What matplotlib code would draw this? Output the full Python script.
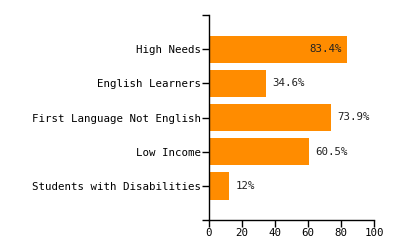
import matplotlib
matplotlib.use("Agg")
import matplotlib.pyplot as plt

categories = ["High Needs", "English Learners", "First Language Not English",
              "Low Income", "Students with Disabilities"]
values = [83.4, 34.6, 73.9, 60.5, 12]
labels = ["83.4%", "34.6%", "73.9%", "60.5%", "12%"]
xticks = [0, 20, 40, 60, 80, 100]

plt.rcParams['font.family'] = ['DejaVu Sans Mono']
fs = 7.75
fig = plt.figure(figsize=(4, 2.5), dpi=100)
ax = fig.add_axes([209/400, 1-220/250, 165/400, 205/250])

pos = list(range(len(categories)))
ax.barh(pos, values, height=0.8, color="#FF8C00")
ax.set_xlim(0, 100)
ax.set_ylim(5, -1)
ax.set_yticks([-1] + pos + [5])
ax.set_yticklabels([""] + categories + [""])
ax.set_xticks(xticks)
ax.set_xticklabels([str(t) for t in xticks])
ax.tick_params(axis='both', labelsize=fs, length=5, width=1, colors='black', pad=1)
for s in ["top", "right"]:
    ax.spines[s].set_visible(False)
for s in ["left", "bottom"]:
    ax.spines[s].set_linewidth(1)

for p, v, l in zip(pos, values, labels):
    if v > 80:
        ax.text(v - 3, p, l, ha='right', va='center', fontsize=fs, color='#222222')
    else:
        ax.text(v + 4, p, l, ha='left', va='center', fontsize=fs, color='#222222')

fig.savefig("out.png", dpi=100)
